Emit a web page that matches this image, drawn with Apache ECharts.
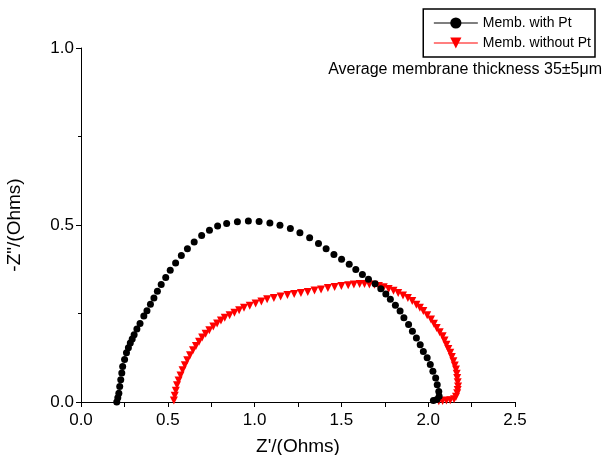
<!DOCTYPE html>
<html>
<head>
<meta charset="utf-8">
<script src="https://cdn.jsdelivr.net/npm/echarts@6/dist/echarts.min.js"></script>
<style>
  html, body { margin: 0; padding: 0; background: #fff; }
  #chart { width: 603px; height: 455px; }
</style>
</head>
<body>
<div id="chart"></div>
<script>
// Nyquist plot, values as [Z', -Z'']
var withPt = [
    [0.206, 0.000], [0.212, 0.012], [0.218, 0.025], [0.223, 0.044], [0.229, 0.063],
    [0.235, 0.082], [0.240, 0.100], [0.251, 0.120], [0.262, 0.139], [0.273, 0.153],
    [0.284, 0.167], [0.295, 0.178], [0.306, 0.190], [0.322, 0.206], [0.340, 0.222],
    [0.362, 0.243], [0.380, 0.258], [0.400, 0.276], [0.420, 0.294], [0.440, 0.313],
    [0.462, 0.332], [0.488, 0.352], [0.514, 0.372], [0.545, 0.393], [0.578, 0.414],
    [0.613, 0.433], [0.652, 0.452], [0.695, 0.470], [0.740, 0.485], [0.787, 0.497],
    [0.839, 0.504], [0.901, 0.509], [0.964, 0.511], [1.026, 0.510], [1.088, 0.506],
    [1.146, 0.499], [1.206, 0.490], [1.261, 0.478], [1.317, 0.464], [1.368, 0.448],
    [1.412, 0.433], [1.457, 0.417], [1.501, 0.403], [1.545, 0.389], [1.583, 0.374],
    [1.621, 0.360], [1.656, 0.347], [1.694, 0.334], [1.727, 0.320], [1.756, 0.305],
    [1.782, 0.290], [1.811, 0.273], [1.838, 0.257], [1.860, 0.238], [1.887, 0.219],
    [1.909, 0.200], [1.932, 0.181], [1.954, 0.162], [1.972, 0.143], [1.994, 0.125],
    [2.012, 0.106], [2.027, 0.087], [2.043, 0.068], [2.052, 0.049], [2.061, 0.030],
    [2.063, 0.016], [2.050, 0.007], [2.030, 0.004]
];
var withoutPt = [
    [0.535, 0.004], [0.540, 0.018], [0.546, 0.032], [0.553, 0.047], [0.562, 0.061],
    [0.573, 0.075], [0.585, 0.090], [0.598, 0.104], [0.612, 0.118], [0.628, 0.132],
    [0.645, 0.146], [0.662, 0.158], [0.680, 0.170], [0.698, 0.182], [0.718, 0.193],
    [0.739, 0.203], [0.762, 0.213], [0.784, 0.222], [0.806, 0.230], [0.828, 0.238],
    [0.856, 0.245], [0.884, 0.252], [0.911, 0.259], [0.939, 0.266], [0.972, 0.272],
    [1.006, 0.278], [1.039, 0.284], [1.072, 0.290], [1.111, 0.294], [1.150, 0.298],
    [1.189, 0.302], [1.228, 0.305], [1.267, 0.308], [1.306, 0.311], [1.345, 0.315],
    [1.383, 0.318], [1.422, 0.322], [1.461, 0.325], [1.500, 0.328], [1.539, 0.330],
    [1.572, 0.332], [1.605, 0.333], [1.633, 0.333], [1.661, 0.332], [1.690, 0.331],
    [1.716, 0.328], [1.744, 0.324], [1.772, 0.319], [1.800, 0.314], [1.827, 0.308],
    [1.855, 0.301], [1.883, 0.294], [1.908, 0.285], [1.932, 0.275], [1.952, 0.266],
    [1.972, 0.257], [1.994, 0.245], [2.016, 0.233], [2.033, 0.221], [2.049, 0.209],
    [2.066, 0.197], [2.083, 0.186], [2.094, 0.174], [2.105, 0.162], [2.116, 0.150],
    [2.127, 0.139], [2.136, 0.127], [2.145, 0.115], [2.153, 0.103], [2.160, 0.092],
    [2.164, 0.080], [2.167, 0.068], [2.170, 0.056], [2.172, 0.044], [2.170, 0.034],
    [2.167, 0.025], [2.160, 0.015], [2.149, 0.008], [2.127, 0.005], [2.105, 0.004],
    [2.083, 0.003], [2.061, 0.002]
];
var seriesNames = ['Memb. with Pt', 'Memb. without Pt'];
var xTicks = [0, 2.5, 0.5];
var yTicks = [0, 1, 0.5];
var note = 'Average membrane thickness 35±5μm';

var font = 'Liberation Sans, Arial, sans-serif';
var chart = echarts.init(document.getElementById('chart'));
var option = {
    backgroundColor: '#fff',
    animation: false,
    textStyle: { fontFamily: font },
    grid: { left: 81, right: 88, top: 48, bottom: 53, outerBoundsMode: 'none' },
    legend: {
        data: seriesNames,
        orient: 'vertical',
        right: 8,
        top: 9,
        padding: [7, 4, 7, 10],
        itemGap: 6,
        itemWidth: 44,
        itemHeight: 14,
        borderColor: '#000',
        borderWidth: 1.5,
        borderRadius: 0,
        lineStyle: { opacity: 1, width: 1.2 },
        textStyle: { fontSize: 14, color: '#000' }
    },
    graphic: [{
        type: 'text',
        right: 1,
        top: 62,
        style: { text: note, font: '16px ' + font, fill: '#000' }
    }],
    xAxis: {
        type: 'value',
        min: xTicks[0],
        max: xTicks[1],
        interval: xTicks[2],
        name: "Z'/(Ohms)",
        nameLocation: 'middle',
        nameGap: 35,
        nameTextStyle: { fontSize: 19, color: '#000' },
        axisLine: { lineStyle: { color: '#000', width: 1 } },
        axisTick: { length: 5, lineStyle: { color: '#000' } },
        minorTick: { show: true, splitNumber: 2, length: 5, lineStyle: { color: '#000' } },
        splitLine: { show: false },
        axisLabel: { fontSize: 17, color: '#000', margin: 10, formatter: function (v) { return v.toFixed(1); } }
    },
    yAxis: {
        type: 'value',
        min: yTicks[0],
        max: yTicks[1],
        interval: yTicks[2],
        name: '-Z"/(Ohms)',
        nameLocation: 'middle',
        nameGap: 57,
        nameTextStyle: { fontSize: 19, color: '#000' },
        axisLine: { show: true, lineStyle: { color: '#000', width: 1 } },
        axisTick: { show: true, length: 5, lineStyle: { color: '#000' } },
        minorTick: { show: true, splitNumber: 2, length: 3, lineStyle: { color: '#000' } },
        splitLine: { show: false },
        axisLabel: { fontSize: 17, color: '#000', margin: 7, formatter: function (v) { return v.toFixed(1); } }
    },
    series: [{
        name: seriesNames[0],
        type: 'line',
        data: withPt,
        symbol: 'circle',
        symbolSize: 7,
        itemStyle: { color: '#000' },
        lineStyle: { color: '#000', opacity: 0 },
        z: 3
    }, {
        name: seriesNames[1],
        type: 'line',
        data: withoutPt,
        symbol: 'triangle',
        symbolRotate: 180,
        symbolSize: 8,
        itemStyle: { color: '#ff0000' },
        lineStyle: { color: '#ff0000', opacity: 0 },
        z: 2
    }]
};
chart.setOption(option);
</script>
</body>
</html>
